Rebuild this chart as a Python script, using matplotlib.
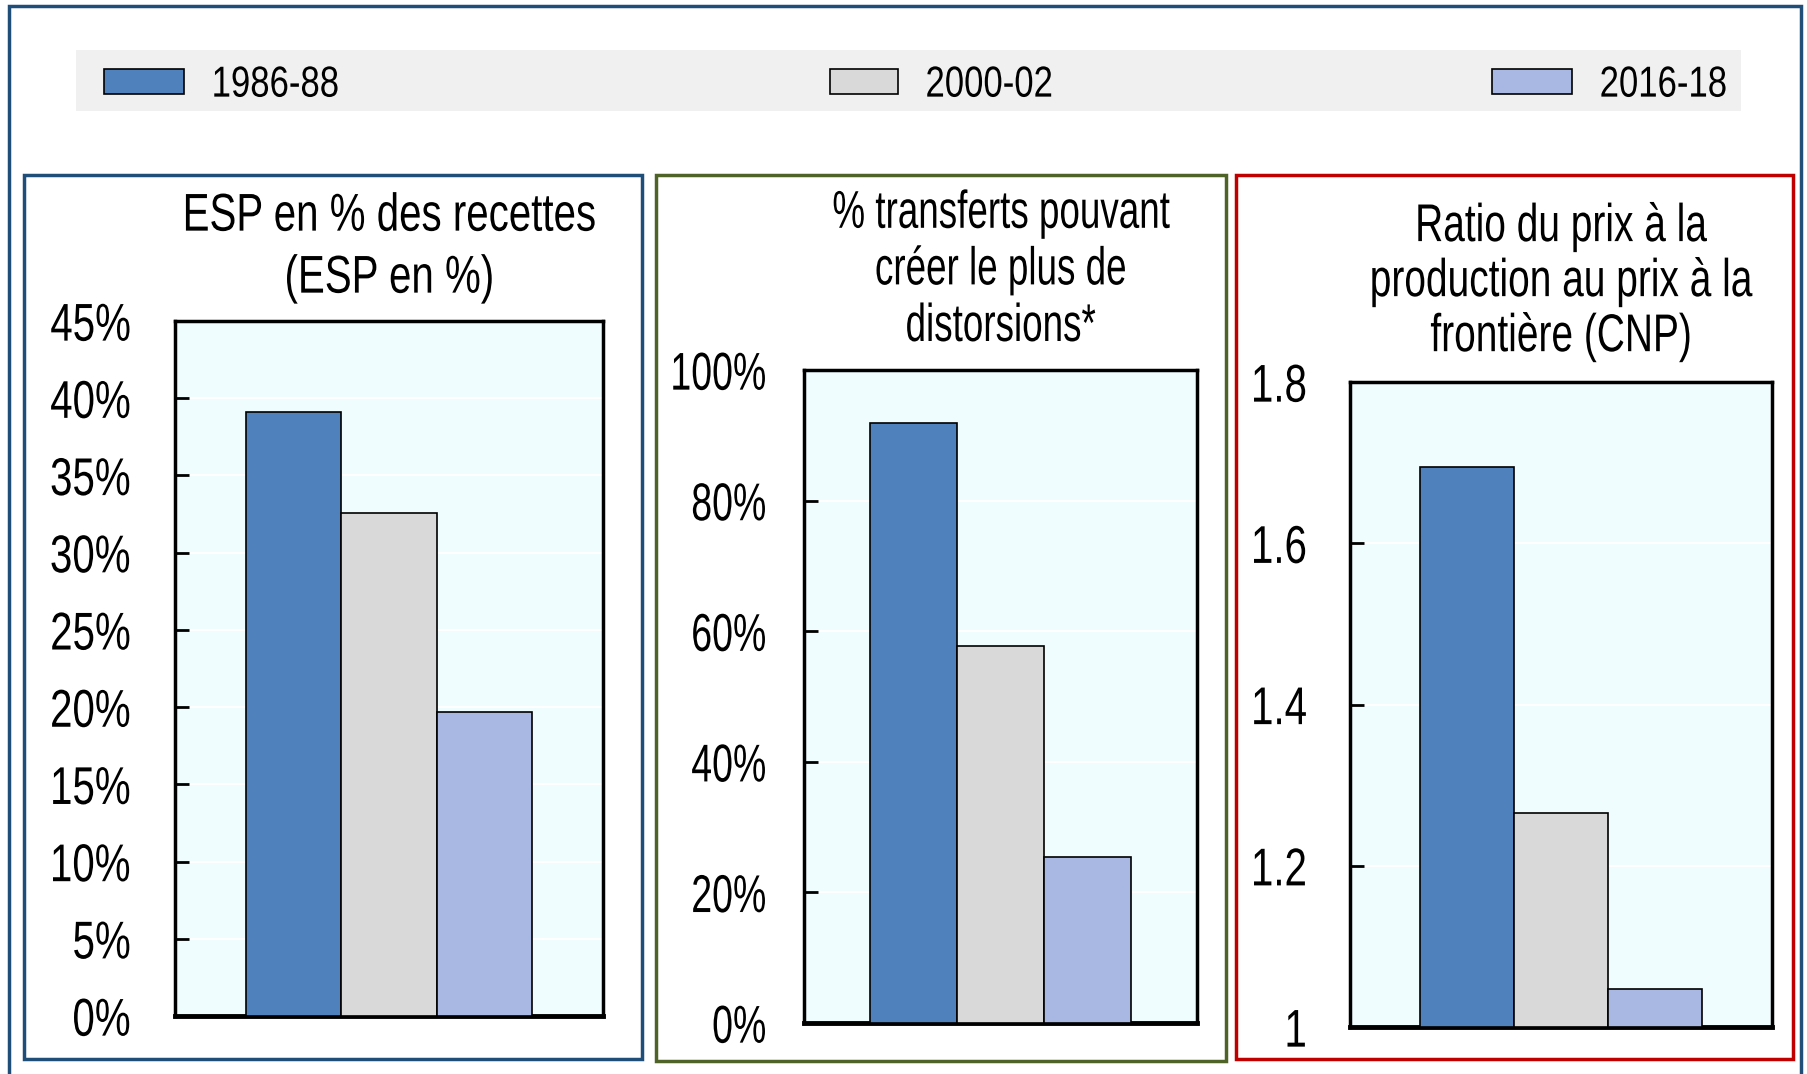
import matplotlib
matplotlib.use("Agg")
import matplotlib.pyplot as plt
from matplotlib.patches import Rectangle
from matplotlib.ticker import FuncFormatter
from matplotlib.patheffects import AbstractPathEffect
from matplotlib.transforms import Affine2D

plt.rcParams['font.family'] = ['Liberation Sans', 'DejaVu Sans']

# Data
periods = ["1986-88", "2000-02", "2016-18"]
colors = ["#4F81BD", "#D9D9D9", "#A9B8E2"]

esp_pct = [39.1, 32.6, 19.7]
distort_pct = [91.9, 57.8, 25.4]
cnp_ratio = [1.694, 1.266, 1.047]

titles = ["ESP en % des recettes\n(ESP en %)",
          "% transferts pouvant\ncréer le plus de\ndistorsions*",
          "Ratio du prix à la\nproduction au prix à la\nfrontière (CNP)"]


class Stretch(AbstractPathEffect):
    # draws text taller than wide (the source uses a condensed face)
    def __init__(self, sy):
        super().__init__()
        self.sy = sy

    def draw_path(self, renderer, gc, tpath, affine, rgbFace=None):
        mid = 36  # about half the cap height, in text path units
        t = Affine2D().translate(0, -mid).scale(1, self.sy).translate(0, mid) + affine
        renderer.draw_path(gc, tpath, t, rgbFace)


W, H = 1808, 1074
fig = plt.figure(figsize=(W / 100, H / 100), dpi=100)


def frect(x0, y0, x1, y1):
    # pixel box (top-left origin) -> figure fraction [left, bottom, w, h]
    return [x0 / W, 1 - y1 / H, (x1 - x0) / W, (y1 - y0) / H]


def box(x0, y0, x1, y1, **kw):
    l, b, w, h = frect(x0, y0, x1, y1)
    fig.patches.append(Rectangle((l, b), w, h, transform=fig.transFigure, **kw))


# outer frame and legend band
box(9, 6, 1801, 1090, fill=False, ec="#1F4E79", lw=2.5)
box(76, 50, 1741, 111, fc="#F0F0F0", ec="none")

# panel frames
panel_px = [(24, 175, 642, 1059), (656, 175, 1226, 1061), (1236, 175, 1793, 1059)]
panel_col = ["#1F4E79", "#4F6228", "#C00000"]
for (x0, y0, x1, y1), c in zip(panel_px, panel_col):
    box(x0, y0, x1, y1, fill=False, ec=c, lw=2.5)

axes_px = [(175, 321, 603, 1016), (804, 370, 1197, 1023), (1350, 382, 1772, 1027)]
title_y = [246, 269, 281]
title_fs = [29, 26.5, 28]
title_ls = [1.8, 1.8, 1.68]
tick_fs = [29, 27, 29]
tick_pad = [32, 27, 31]
series = [esp_pct, distort_pct, cnp_ratio]
ylims = [(0, 45), (0, 100), (1, 1.8)]
yticks = [range(0, 50, 5), range(0, 120, 20), [1, 1.2, 1.4, 1.6, 1.8]]
fmts = [lambda v, p: f"{v:.0f}%", lambda v, p: f"{v:.0f}%", lambda v, p: f"{v:g}"]

bars_first = None
for i in range(3):
    x0, y0, x1, y1 = axes_px[i]
    ax = fig.add_axes(frect(x0, y0, x1, y1))
    ax.set_facecolor("#F0FDFF")
    vals = series[i]
    base = ylims[i][0]
    bars = ax.bar([-1, 0, 1], [v - base for v in vals], bottom=base, width=1,
                  color=colors, edgecolor="black", linewidth=1.2, zorder=3)
    if bars_first is None:
        bars_first = bars
    ax.set_xlim(-2.25, 2.25)
    ax.set_ylim(*ylims[i])
    ax.set_yticks(list(yticks[i]))
    ax.yaxis.set_major_formatter(FuncFormatter(fmts[i]))
    ax.set_xticks([])
    ax.yaxis.grid(True, color="white", lw=1.5, zorder=1)
    ax.set_axisbelow(True)
    ax.tick_params(axis="y", direction="in", length=10, width=2, pad=tick_pad[i],
                   labelsize=tick_fs[i])
    for t in ax.yaxis.get_major_ticks():
        t.label1.set_path_effects([Stretch(1.32 * 29 / tick_fs[i])])
    for s in ax.spines.values():
        s.set_linewidth(2.5)
        s.set_color("black")
    ax.spines["bottom"].set_linewidth(3.5)
    fig.text(((x0 + x1) / 2) / W, 1 - title_y[i] / H, titles[i], ha="center",
             va="center", fontsize=title_fs[i], linespacing=title_ls[i],
             path_effects=[Stretch(1.32 * 29 / title_fs[i])])

# legend, one entry per period
leg_x = [104, 830, 1492]
leg_hl = [2.3, 1.95, 2.3]
for j in range(3):
    leg = fig.legend([bars_first[j]], [periods[j]], loc="center left",
                     bbox_to_anchor=(leg_x[j] / W, 1 - 84 / H), frameon=False,
                     fontsize=25, borderpad=0, borderaxespad=0,
                     handlelength=leg_hl[j], handleheight=0.7, handletextpad=0.8)
    leg.get_texts()[0].set_path_effects([Stretch(1.25)])

fig.savefig("out.png", dpi=100)
